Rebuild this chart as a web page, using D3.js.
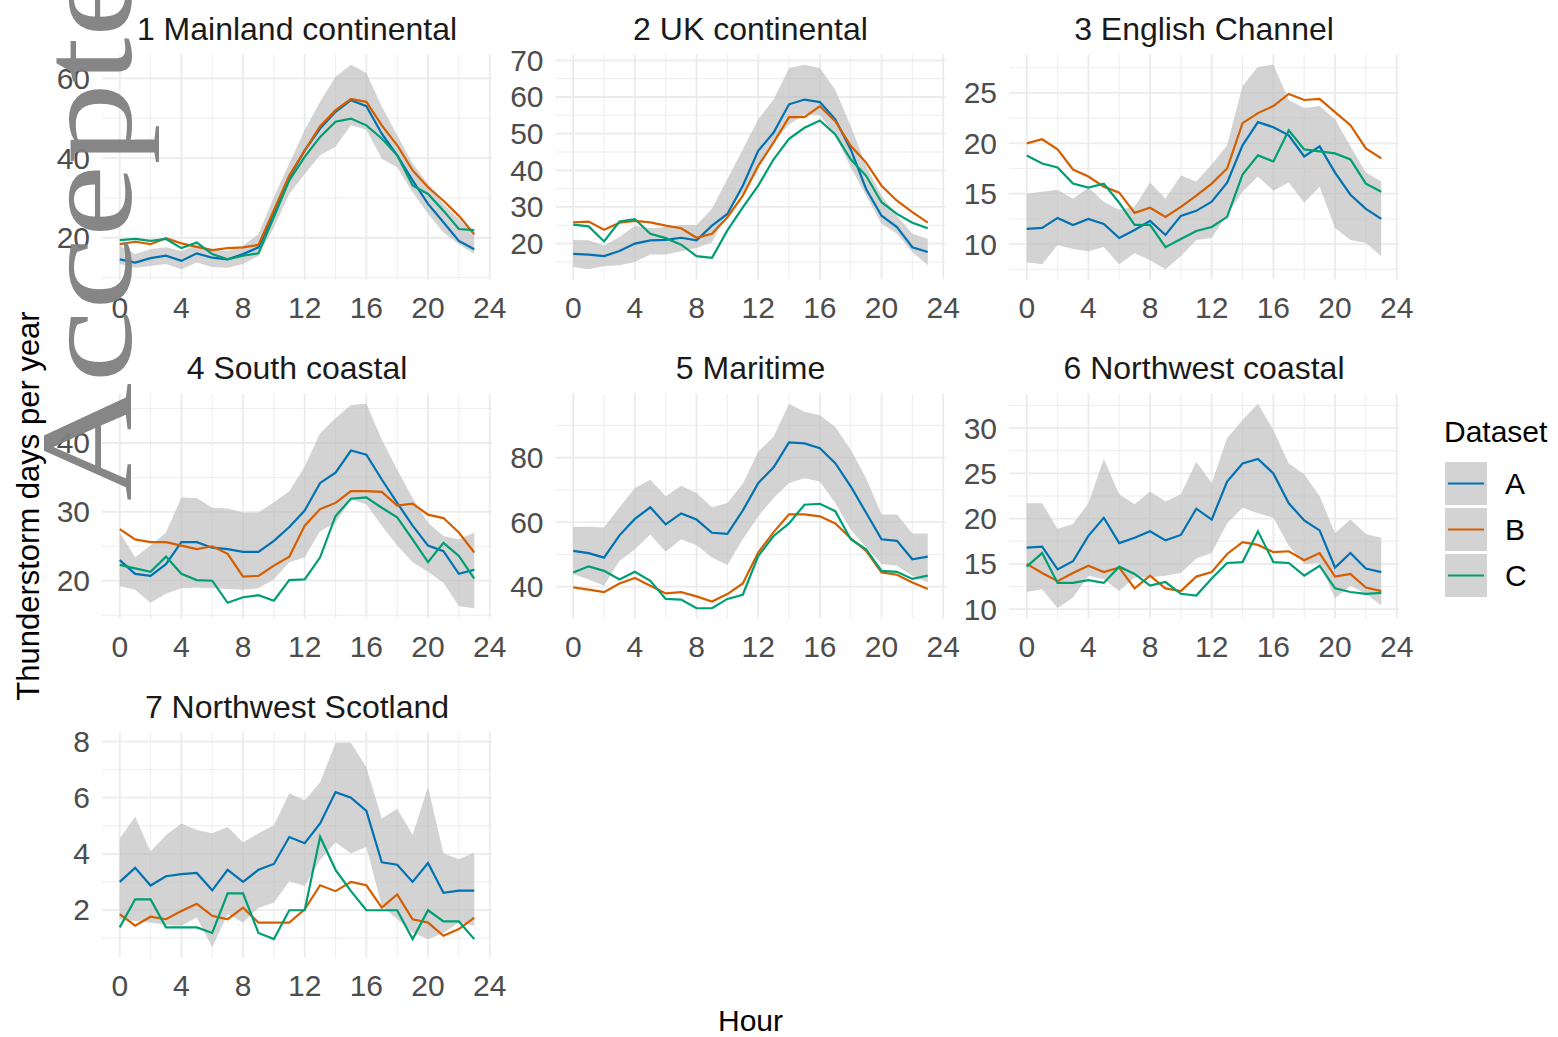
<!DOCTYPE html>
<html>
<head>
<meta charset="utf-8">
<script src="https://cdn.jsdelivr.net/npm/d3@7.9.0/dist/d3.min.js"></script>
<style>
  body { margin: 0; background: #fff; }
  svg { display: block; font-family: "Liberation Sans", Arial, sans-serif; }
</style>
</head>
<body>
<svg id="chart" width="1558" height="1037"></svg>
<script>
// hours of the day, one value per hour
const hours = d3.range(24);
const panelTitles = ['1 Mainland continental', '2 UK continental', '3 English Channel',
  '4 South coastal', '5 Maritime', '6 Northwest coastal', '7 Northwest Scotland'];
const seriesNames = ['A', 'B', 'C'];
const seriesColors = ['#0072B2', '#D55E00', '#009E73'];
const xTicks = [0, 4, 8, 12, 16, 20, 24];
const yTicks = [[20, 40, 60], [20, 30, 40, 50, 60, 70], [10, 15, 20, 25], [20, 30, 40],
  [40, 60, 80], [10, 15, 20, 25, 30], [2, 4, 6, 8]];

// thunderstorm days per year, dataset A (one array per panel)
const dataA = [
  [14.6,13.8,14.9,15.5,14.2,16.1,15.0,14.6,15.9,17.6,26.0,35.2,41.9,47.4,51.6,54.5,53.0,46.1,40.7,34.4,28.5,23.9,19.2,17.1],
  [17.2,17.0,16.6,18.0,20.0,20.9,21.0,21.6,20.9,24.9,28.1,35.8,45.3,50.3,58.0,59.3,58.6,53.9,45.7,34.9,27.6,24.5,19.0,17.7],
  [11.5,11.6,12.6,11.9,12.5,12.0,10.6,11.4,12.3,10.9,12.8,13.3,14.2,16.1,19.8,22.1,21.6,20.8,18.7,19.7,17.1,14.9,13.5,12.5],
  [23.0,21.0,20.7,22.4,25.6,25.6,24.8,24.6,24.2,24.2,25.8,27.8,30.2,34.2,35.7,38.9,38.3,34.7,31.3,28.0,25.1,24.3,21.0,21.6],
  [51.1,50.4,49.0,55.9,61.0,64.6,59.3,62.7,60.8,56.7,56.4,63.6,72.1,77.0,84.7,84.4,82.9,78.3,71.1,62.9,54.7,54.2,48.5,49.3],
  [16.8,16.9,14.4,15.3,18.1,20.1,17.3,17.9,18.6,17.6,18.2,21.1,19.9,24.1,26.1,26.6,25.0,21.7,19.8,18.7,14.6,16.2,14.5,14.1],
  [3.0,3.5,2.87,3.2,3.28,3.32,2.7,3.43,3.0,3.43,3.64,4.6,4.38,5.08,6.2,6.0,5.53,3.7,3.61,3.0,3.67,2.61,2.69,2.69]
];
// dataset B
const dataB = [
  [18.4,19.0,18.4,19.9,18.6,17.7,16.9,17.4,17.6,18.2,26.9,35.6,41.9,48.0,52.0,54.8,54.1,48.2,43.2,36.9,32.7,29.3,25.5,20.9],
  [25.8,26.0,23.8,25.7,26.2,25.8,24.9,24.2,21.6,22.7,27.2,33.1,41.2,47.6,54.5,54.5,57.5,53.4,46.7,42.1,35.8,31.7,28.6,25.7],
  [20.0,20.4,19.4,17.4,16.7,15.7,15.1,13.1,13.6,12.7,13.7,14.8,16.0,17.5,22.0,23.0,23.7,24.9,24.3,24.4,23.1,21.8,19.5,18.5],
  [27.5,26.0,25.6,25.6,25.1,24.6,25.0,23.9,20.6,20.7,22.2,23.5,28.0,30.4,31.3,33.0,33.0,32.9,30.9,31.2,29.6,29.1,27.0,24.1],
  [39.8,39.1,38.3,41.0,42.7,40.3,37.9,38.3,37.0,35.4,37.7,41.0,50.6,56.9,62.4,62.4,61.8,59.6,55.0,51.1,44.4,43.7,41.3,39.3],
  [15.0,14.0,13.1,14.0,14.8,14.1,14.6,12.3,13.7,12.3,12.0,13.6,14.1,16.1,17.4,17.1,16.3,16.4,15.4,16.2,13.6,13.9,12.4,12.0],
  [1.85,1.44,1.76,1.67,1.96,2.22,1.79,1.67,2.08,1.55,1.55,1.55,2.02,2.88,2.67,3.0,2.88,2.08,2.55,1.67,1.55,1.08,1.32,1.73]
];
// dataset C
const dataC = [
  [19.4,19.7,19.2,19.7,17.4,18.8,15.9,14.6,15.5,16.1,25.2,34.4,40.3,45.3,49.1,49.9,48.2,44.9,40.7,33.1,31.0,26.8,22.2,21.9],
  [25.2,24.7,20.6,26.0,26.7,22.7,21.5,19.7,16.6,16.1,23.6,29.9,35.8,43.0,48.6,51.6,53.6,49.8,43.0,38.5,31.3,28.1,25.7,24.2],
  [18.8,18.0,17.6,16.0,15.6,16.0,14.1,11.9,11.9,9.7,10.5,11.3,11.7,12.7,16.9,18.8,18.2,21.3,19.4,19.2,19.0,18.4,16.0,15.2],
  [22.3,21.8,21.3,23.5,21.0,20.1,20.0,16.8,17.6,17.9,17.1,20.1,20.2,23.4,29.4,31.9,32.1,30.6,29.2,26.0,22.7,25.5,23.6,20.3],
  [44.4,46.3,44.9,42.2,44.6,41.8,36.2,36.0,33.3,33.3,36.2,37.5,49.5,55.7,59.6,65.4,65.7,63.4,54.7,51.6,44.9,44.6,42.4,43.4],
  [14.7,16.2,12.9,12.9,13.2,12.9,14.7,13.9,12.6,13.0,11.7,11.5,13.4,15.1,15.2,18.6,15.2,15.1,13.7,14.8,12.3,11.9,11.7,11.8],
  [1.38,2.38,2.38,1.38,1.38,1.38,1.18,2.59,2.59,1.18,0.96,1.99,1.99,4.61,3.43,2.67,1.99,1.99,1.99,0.96,1.99,1.59,1.59,0.96]
];
// grey band around dataset A: lower and upper edge
const bandLow = [
  [13.4,12.5,12.9,13.4,12.1,13.8,12.7,12.5,13.4,15.5,22.6,31.0,36.0,40.7,42.8,48.2,47.1,39.8,37.7,31.4,26.0,21.3,18.4,15.9],
  [13.6,13.0,13.8,14.1,15.0,17.0,17.0,17.9,18.8,20.4,28.6,34.0,41.2,47.6,52.5,55.2,55.0,49.4,40.8,33.1,25.4,22.7,17.7,14.1],
  [8.2,8.0,9.9,9.5,9.3,9.7,8.0,9.1,8.4,7.5,8.8,10.4,10.6,12.9,15.2,16.7,15.3,16.1,14.1,15.7,11.6,10.4,10.1,8.8],
  [19.2,18.7,16.8,18.1,18.9,19.0,18.9,18.8,18.7,18.9,20.2,22.7,23.4,27.2,28.4,31.8,31.1,28.0,25.1,22.7,21.3,19.7,16.3,16.0],
  [43.9,42.2,40.3,48.0,51.6,56.2,50.8,54.7,52.8,49.0,46.7,54.7,61.8,67.5,72.1,73.6,72.6,65.9,57.7,52.1,47.0,46.5,43.4,41.3],
  [11.9,12.2,10.1,11.3,13.7,13.3,12.0,13.5,13.5,13.7,14.0,15.6,16.2,19.5,21.2,20.6,20.1,17.0,15.0,15.1,11.2,12.6,11.7,10.4],
  [1.67,1.61,1.55,1.46,1.44,1.73,0.67,1.85,1.55,2.08,2.26,3.02,2.85,3.79,4.4,4.02,4.24,2.14,1.67,1.2,0.96,1.18,1.55,1.44]
];
const bandHigh = [
  [18.0,15.9,17.1,17.6,16.7,18.2,17.1,16.7,18.0,20.9,30.2,38.6,47.0,54.1,60.4,63.4,61.3,52.9,45.7,38.6,33.5,28.5,24.7,20.9],
  [21.0,20.9,19.5,21.8,24.9,24.2,24.5,25.1,25.1,29.5,37.6,45.7,53.9,59.3,67.9,68.8,67.9,62.0,52.1,41.2,33.1,27.6,22.7,21.3],
  [15.0,15.2,15.4,14.5,15.6,14.2,13.4,13.7,16.1,14.5,16.8,16.2,17.9,19.8,25.7,27.6,27.8,24.3,23.5,23.7,22.4,19.7,17.1,16.2],
  [27.0,23.4,25.1,27.0,32.1,32.0,30.6,30.5,29.9,29.9,31.4,33.0,36.6,41.4,43.6,45.5,45.7,40.5,36.1,32.0,28.4,26.5,26.0,27.0],
  [58.5,58.6,58.3,64.6,70.6,73.1,68.0,71.3,69.0,64.6,65.9,71.9,81.8,86.5,96.7,94.2,93.1,89.5,82.4,73.6,62.4,62.4,56.5,56.5],
  [21.7,21.7,18.9,19.4,21.7,26.6,22.7,21.6,23.0,21.9,22.7,26.3,23.9,28.9,30.9,32.7,29.8,26.1,24.9,22.5,18.4,19.9,18.3,17.9],
  [4.55,5.32,4.08,4.67,5.08,4.85,4.73,4.96,4.4,4.73,5.02,6.16,5.9,6.55,7.96,7.96,7.08,5.26,5.61,4.67,6.38,4.02,3.81,4.05]
];

const svg = d3.select('#chart');
const panelW = 390, panelH = 225;
const colLeft = [102, 555.5, 1009];
const rowTop = [54.5, 393.5, 732.5];
const gridColor = '#ebebeb';
const bandColor = '#d3d3d3';

// ggplot-like 5% expansion
function expand([lo, hi]) {
  const pad = (hi - lo) * 0.05;
  return [lo - pad, hi + pad];
}
// minor breaks sit half way between the major ones
function minorsOf(ticks, domain) {
  const step = ticks[1] - ticks[0];
  const m = [ticks[0] - step / 2, ...ticks.map(t => t + step / 2)];
  return m.filter(v => v >= domain[0] && v <= domain[1]);
}

const x = d3.scaleLinear().domain(expand(d3.extent(hours))).range([0, panelW]);
const xMinor = minorsOf(xTicks, x.domain());

panelTitles.forEach((title, i) => {
  const col = i % 3, row = Math.floor(i / 3);
  const g = svg.append('g').attr('transform', `translate(${colLeft[col]},${rowTop[row]})`);

  const allVals = [...dataA[i], ...dataB[i], ...dataC[i], ...bandLow[i], ...bandHigh[i]];
  const y = d3.scaleLinear().domain(expand(d3.extent(allVals))).range([panelH, 0]);
  const yMinor = minorsOf(yTicks[i], y.domain());

  // grid: minor then major
  g.selectAll('.vminor').data(xMinor).join('line')
    .attr('x1', d => x(d)).attr('x2', d => x(d)).attr('y1', 0).attr('y2', panelH)
    .attr('stroke', gridColor).attr('stroke-width', 0.9);
  g.selectAll('.hminor').data(yMinor).join('line')
    .attr('x1', 0).attr('x2', panelW).attr('y1', d => y(d)).attr('y2', d => y(d))
    .attr('stroke', gridColor).attr('stroke-width', 0.9);
  g.selectAll('.vmajor').data(xTicks).join('line')
    .attr('x1', d => x(d)).attr('x2', d => x(d)).attr('y1', 0).attr('y2', panelH)
    .attr('stroke', gridColor).attr('stroke-width', 1.8);
  g.selectAll('.hmajor').data(yTicks[i]).join('line')
    .attr('x1', 0).attr('x2', panelW).attr('y1', d => y(d)).attr('y2', d => y(d))
    .attr('stroke', gridColor).attr('stroke-width', 1.8);

  // band
  const area = d3.area()
    .x((d, k) => x(hours[k]))
    .y0((d, k) => y(bandLow[i][k]))
    .y1(d => y(d));
  g.append('path').attr('d', area(bandHigh[i]))
    .attr('fill', '#bcbcbc').attr('fill-opacity', 0.65);

  // lines
  const line = d3.line().x((d, k) => x(hours[k])).y(d => y(d));
  [dataA[i], dataB[i], dataC[i]].forEach((vals, s) => {
    g.append('path').attr('d', line(vals))
      .attr('fill', 'none').attr('stroke', seriesColors[s]).attr('stroke-width', 2.2);
  });

  // tick labels
  g.selectAll('.xt').data(xTicks).join('text')
    .attr('x', d => x(d)).attr('y', panelH + 38)
    .attr('text-anchor', 'middle').attr('font-size', 30).attr('fill', '#4d4d4d')
    .text(d => d);
  g.selectAll('.yt').data(yTicks[i]).join('text')
    .attr('x', -12).attr('y', d => y(d) + 10.5)
    .attr('text-anchor', 'end').attr('font-size', 30).attr('fill', '#4d4d4d')
    .text(d => d);

  // strip title
  g.append('text').attr('x', panelW / 2).attr('y', -15)
    .attr('text-anchor', 'middle').attr('font-size', 32).attr('fill', '#1a1a1a')
    .text(title);
});

// axis titles
svg.append('text').attr('x', 750.5).attr('y', 1031)
  .attr('text-anchor', 'middle').attr('font-size', 30).text('Hour');
svg.append('text').attr('transform', 'translate(39,506) rotate(-90)')
  .attr('text-anchor', 'middle').attr('font-size', 31).text('Thunderstorm days per year');

// legend
const legend = svg.append('g').attr('transform', 'translate(1444,0)');
legend.append('text').attr('x', 0).attr('y', 442).attr('font-size', 30).text('Dataset');
seriesNames.forEach((name, s) => {
  const top = 462 + s * 46;
  legend.append('rect').attr('x', 1).attr('y', top).attr('width', 42).attr('height', 43)
    .attr('fill', bandColor);
  legend.append('line').attr('x1', 4).attr('x2', 40).attr('y1', top + 21.5).attr('y2', top + 21.5)
    .attr('stroke', seriesColors[s]).attr('stroke-width', 2.2);
  legend.append('text').attr('x', 61).attr('y', top + 32).attr('font-size', 30).text(name);
});

// watermark
svg.append('text')
  .attr('transform', 'translate(131,501) rotate(-90) scale(1.25,1)')
  .attr('font-family', '"Liberation Serif", "Times New Roman", serif')
  .attr('font-size', 131).attr('fill', '#808080').attr('fill-opacity', 0.95)
  .text('Accepted');
</script>
</body>
</html>
